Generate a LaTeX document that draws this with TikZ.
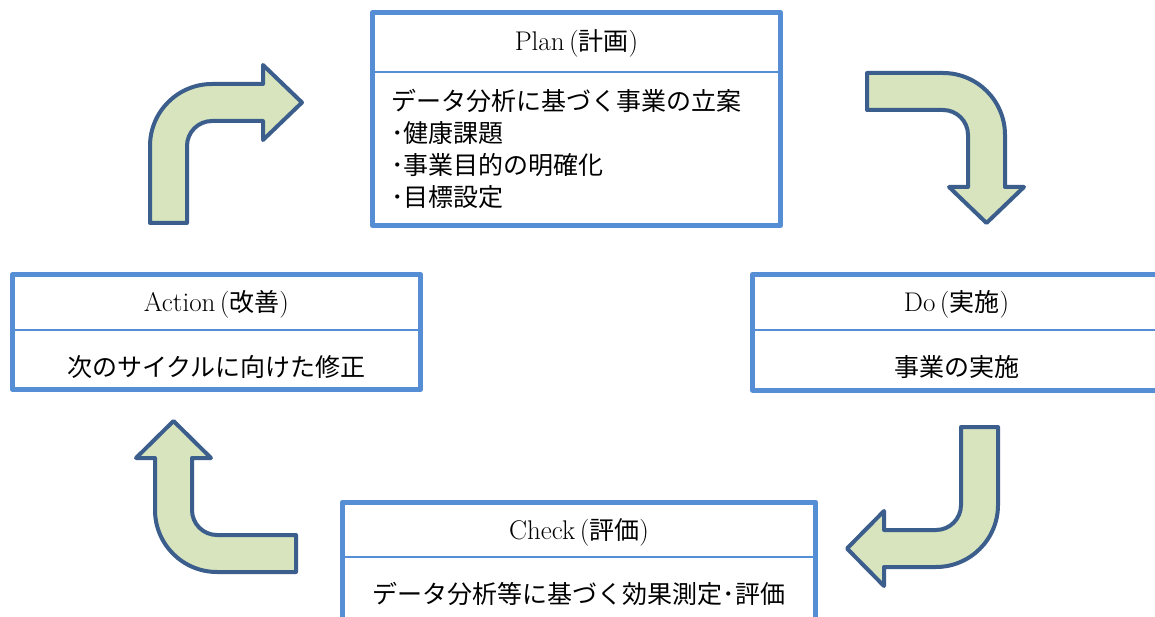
\documentclass[tikz,border=0pt]{standalone}
\usepackage{fontspec}
\newfontfamily\jp{Noto Sans CJK JP}
\newcommand{\jpt}[1]{{\fontsize{25}{32}\selectfont\jp #1}}
\definecolor{boxblue}{HTML}{558ED5}
\definecolor{arrowline}{HTML}{3B5E8C}
\definecolor{arrowfill}{HTML}{D7E4BD}
\begin{document}
\begin{tikzpicture}[x=1pt,y=-1pt,
  boxframe/.style={draw=boxblue,line width=5pt,fill=white,line join=round},
  divider/.style={draw=boxblue,line width=2pt},
  bentarrow/.style={draw=arrowline,fill=arrowfill,line width=4pt,line join=round},
  lbl/.style={font=\fontsize{27}{32}\selectfont,inner sep=0pt,anchor=base},
  lblj/.style={font=\fontsize{25}{32}\selectfont\jp,inner sep=0pt,anchor=base},
  lbll/.style={font=\fontsize{25}{32}\selectfont\jp,inner sep=0pt,anchor=base west}]
\useasboundingbox (0,0) rectangle (1155,617);
\fill[white] (0,0) rectangle (1155,617);

% ---- Plan box
\draw[boxframe] (372.5,12.5) rectangle (780.5,225.5);
\draw[divider] (372.5,72) -- (780.5,72);
\node[lbl] (plantitle) at (576.5,51) {Plan\,(\jpt{計画})};
\node[lbll] (planl1) at (391,111) {データ分析に基づく事業の立案};
\node[lbll] (planl2) at (391,143) {･健康課題};
\node[lbll] (planl3) at (391,175) {･事業目的の明確化};
\node[lbll] (planl4) at (391,207) {･目標設定};

% ---- Do box
\draw[boxframe] (752.5,274.5) rectangle (1160.5,390);
\draw[divider] (752.5,330) -- (1160.5,330);
\node[lbl] (dotitle) at (956.5,312) {Do\,(\jpt{実施})};
\node[lblj] (dobody) at (956.5,376.5) {事業の実施};

% ---- Check box
\draw[boxframe] (342.5,502) rectangle (815.5,650);
\draw[divider] (342.5,557) -- (815.5,557);
\node[lbl] (checktitle) at (579,539) {Check\,(\jpt{評価})};
\node[lblj] (checkbody) at (579,603.5) {データ分析等に基づく効果測定･評価};

% ---- Action box
\draw[boxframe] (12.5,274.5) rectangle (420.5,389.5);
\draw[divider] (12.5,330) -- (420.5,330);
\node[lbl] (actiontitle) at (216.5,312) {Action\,(\jpt{改善})};
\node[lblj] (actionbody) at (216.5,376.5) {次のサイクルに向けた修正};

% ---- bent arrows
% Action -> Plan (up, then right)
\draw[bentarrow] (187,223) -- (150,223) -- (150,146)
  arc[start angle=180,end angle=90,radius=62pt] -- (263,84) -- (263,65)
  -- (302,102.5) -- (263,140) -- (263,121) -- (212,121)
  arc[start angle=90,end angle=180,radius=25pt] -- cycle;
% Plan -> Do (right, then down)
\draw[bentarrow] (867,73) -- (943,73)
  arc[start angle=90,end angle=0,radius=62pt] -- (1005,187) -- (1024,187)
  -- (986.5,223) -- (949,187) -- (968,187) -- (968,135)
  arc[start angle=0,end angle=90,radius=25pt] -- (867,110) -- cycle;
% Do -> Check (down, then left)
\draw[bentarrow] (961,427) -- (998,427) -- (998,505)
  arc[start angle=0,end angle=-90,radius=62pt] -- (884,567) -- (884,586)
  -- (847,548.5) -- (884,511) -- (884,530) -- (936,530)
  arc[start angle=-90,end angle=0,radius=25pt] -- cycle;
% Check -> Action (left, then up)
\draw[bentarrow] (296,535) -- (217,535)
  arc[start angle=270,end angle=180,radius=25pt] -- (192,458) -- (211,458)
  -- (173.5,421) -- (136,458) -- (155,458) -- (155,510)
  arc[start angle=180,end angle=270,radius=62pt] -- (296,572) -- cycle;
\end{tikzpicture}
\end{document}
